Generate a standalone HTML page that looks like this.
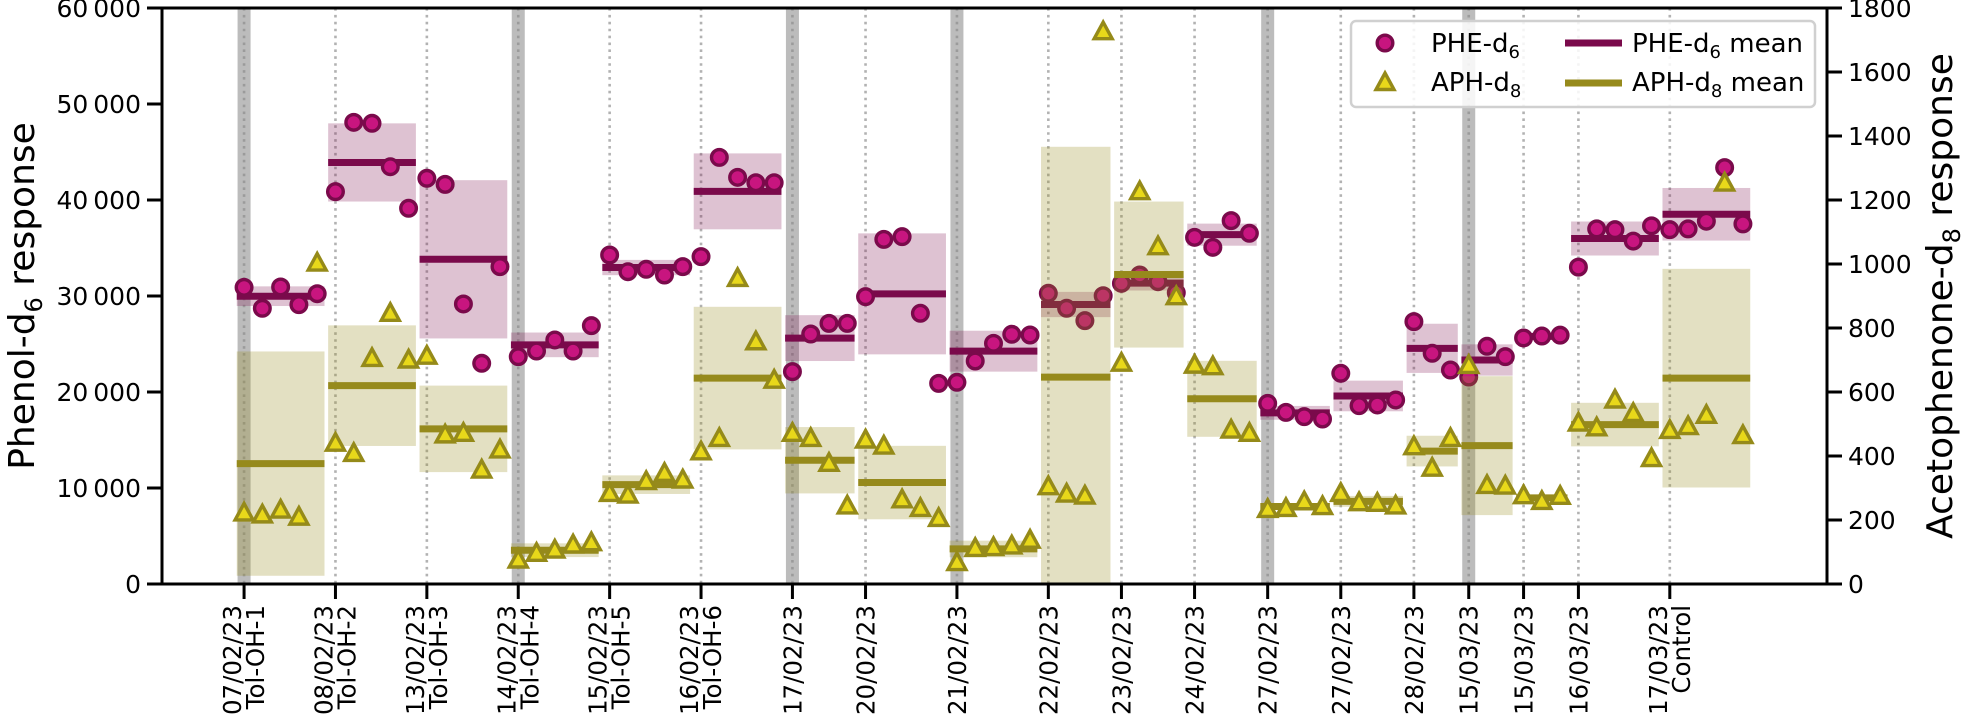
<!DOCTYPE html>
<html><head><meta charset="utf-8"><style>
html,body{margin:0;padding:0;background:#fff;}
svg{display:block;font-family:"DejaVu Sans","Liberation Sans",sans-serif;}
</style></head><body>
<svg id="chart" width="1970" height="727" viewBox="0 0 1970 727" xmlns="http://www.w3.org/2000/svg">
<defs><clipPath id="plotclip"><rect x="162" y="8" width="1665" height="576"/></clipPath></defs>
<g id="bg" clip-path="url(#plotclip)"></g><g id="phe" clip-path="url(#plotclip)"></g><g id="aph" clip-path="url(#plotclip)"></g><g id="axes"></g>
</svg>
<script>
const groupStarts = [0,5,10,15,20,25,30,34,39,44,48,52,56,60,64,67,70,73,78];
const groupDates = ["07/02/23","08/02/23","13/02/23","14/02/23","15/02/23","16/02/23","17/02/23","20/02/23","21/02/23","22/02/23","23/02/23","24/02/23","27/02/23","27/02/23","28/02/23","15/03/23","15/03/23","16/03/23","17/03/23"];
const groupNames = ["Tol-OH-1","Tol-OH-2","Tol-OH-3","Tol-OH-4","Tol-OH-5","Tol-OH-6","","","","","","","","","","","","","Control"];
const grayGroups = [0,3,6,8,12,15];
const pheValues = [30900,28720,30940,29100,30240, 40870,48090,47990,43470,39140, 42260,41630,29170,22990,33060, 23680,24270,25420,24270,26910, 34270,32530,32780,32190,33060, 34100,44440,42360,41800,41800, 22120,26040,27150,27150, 29930,35900,36180,28200,20900, 21010,23230,25070,26010,25940, 30280,28720,27430,30030, 31320,32190,31490,30340, 36110,35070,37850,36530, 18820,17880,17430,17190, 21950,18580,18650,19170, 27330,24030,22290, 21560,24760,23680, 25630,25830,25920, 33010,36990,36910,35720,37310, 36910,36990,37790,43370,37510];
const aphValues = [222,216,231,209,1003, 440,408,705,846,700, 712,466,471,356,419, 75,96,106,122,129, 283,278,320,346,325, 413,455,955,757,637, 471,455,377,244, 450,431,263,236,205, 67,111,114,119,137, 304,281,275,1726, 690,1226,1054,898, 684,679,481,471, 233,236,257,242, 283,254,252,244, 429,362,455, 683,308,306, 276,258,274, 503,488,575,533,392, 480,492,527,1253,464];
const leftTicks = [0,10000,20000,30000,40000,50000,60000];
const leftTickLabels = ["0","10\u2009000","20\u2009000","30\u2009000","40\u2009000","50\u2009000","60\u2009000"];
const rightTicks = [0,200,400,600,800,1000,1200,1400,1600,1800];

const NS="http://www.w3.org/2000/svg";
const L=162,R=1827,T=8,B=584;
const X0=-4.49,X1=86.6;
const xs=i=>L+(i-X0)/(X1-X0)*(R-L);
const yl=v=>B-v/60000*(B-T);
const yr=v=>B-v/1800*(B-T);
function mk(p,tag,attrs,name){const e=document.createElementNS(NS,tag);for(const k in attrs)e.setAttribute(k,attrs[k]);


p.appendChild(e);return e;}
const bg=document.getElementById('bg'),gp=document.getElementById('phe'),ga=document.getElementById('aph'),ax=document.getElementById('axes');
const N=pheValues.length;
const ends=groupStarts.map((s,k)=>k<groupStarts.length-1?groupStarts[k+1]-1:N-1);
grayGroups.forEach(k=>{mk(bg,'rect',{x:xs(groupStarts[k])-6.5,y:T,width:13,height:B-T,fill:'#b0b0b0','fill-opacity':0.85},'date-band');});
groupStarts.forEach(s=>{mk(bg,'line',{x1:xs(s),x2:xs(s),y1:T,y2:B,stroke:'#888','stroke-opacity':0.65,'stroke-width':2.6,'stroke-dasharray':'2.6 4.3'},'group-divider');});
function stats(a){const m=a.reduce((p,c)=>p+c,0)/a.length;const sd=a.length>1?Math.sqrt(a.reduce((p,c)=>p+(c-m)*(c-m),0)/(a.length-1)):0;return [m,sd];}
function drawSeries(g,vals,ys,boxFill,lineCol,marker,nm){
 groupStarts.forEach((s,k)=>{const e=ends[k];const [m,sd]=stats(vals.slice(s,e+1));
  const x1=xs(s-0.4),x2=xs(e+0.4);
  mk(g,'rect',{x:x1,y:ys(m+sd),width:x2-x1,height:ys(m-sd)-ys(m+sd),fill:boxFill},nm+'-std-band');
  mk(g,'line',{x1:x1,x2:x2,y1:ys(m),y2:ys(m),stroke:lineCol,'stroke-width':7},nm+'-mean-line');
 });
 vals.forEach((v,i)=>marker(g,xs(i),ys(v)));
}
const circ=(g,x,y)=>mk(g,'circle',{cx:x,cy:y,r:7.8,fill:'#c8157f',stroke:'#7a0a4b','stroke-width':3.4},'phe-point');
const tri=(g,x,y)=>mk(g,'path',{d:`M${x},${y-9.5} L${x+9},${y+7} L${x-9},${y+7} Z`,fill:'#e8d81a',stroke:'#958a19','stroke-width':3.4,'stroke-linejoin':'miter'},'aph-point');
drawSeries(gp,pheValues,yl,'rgba(122,10,75,0.25)','#7a0a4b',circ,'phe');
drawSeries(ga,aphValues,yr,'rgba(150,140,30,0.27)','#968a1c',tri,'aph');
mk(ax,'rect',{x:L,y:T,width:R-L,height:B-T,fill:'none',stroke:'#000','stroke-width':3},'plot-frame');
leftTicks.forEach((v,i)=>{const y=yl(v);mk(ax,'line',{x1:L-15,x2:L,y1:y,y2:y,stroke:'#000','stroke-width':3},'left-tick');
 const t=mk(ax,'text',{x:L-21,y:y+9,'text-anchor':'end','font-size':25},'left-tick-label');t.textContent=leftTickLabels[i];});
rightTicks.forEach(v=>{const y=yr(v);mk(ax,'line',{x1:R,x2:R+15,y1:y,y2:y,stroke:'#000','stroke-width':3},'right-tick');
 const t=mk(ax,'text',{x:R+21,y:y+9,'text-anchor':'start','font-size':25},'right-tick-label');t.textContent=String(v);});
groupStarts.forEach((s,k)=>{const x=xs(s);mk(ax,'line',{x1:x,x2:x,y1:B,y2:B+15,stroke:'#000','stroke-width':3},'x-tick');
 const two=groupNames[k]!=='';
 const t=mk(ax,'text',{transform:`translate(${x},${B+21}) rotate(-90)`,'text-anchor':'end','font-size':24.5},'x-tick-label');
 const a=document.createElementNS(NS,'tspan');a.setAttribute('x',0);a.setAttribute('y',two?-3:9);a.textContent=groupDates[k];t.appendChild(a);
 if(two){const b=document.createElementNS(NS,'tspan');b.setAttribute('x',0);b.setAttribute('y',20);b.textContent=groupNames[k];t.appendChild(b);}
});
</script>
<script>
(function(){
const svg=document.getElementById('chart');
svg.insertAdjacentHTML('beforeend',`
<text transform="translate(34,296) rotate(-90)" text-anchor="middle" font-size="36">Phenol-d<tspan font-size="24" dy="8">6</tspan><tspan dy="-8"> response</tspan></text>
<text transform="translate(1952,296) rotate(-90)" text-anchor="middle" font-size="36">Acetophenone-d<tspan font-size="24" dy="8">8</tspan><tspan dy="-8"> response</tspan></text>
<g>
<rect x="1351" y="21" width="464" height="86" rx="5" fill="#fff" fill-opacity="0.85" stroke="#d0d0d0" stroke-width="2.5"/>
<circle cx="1385" cy="43" r="7.8" fill="#c8157f" stroke="#7a0a4b" stroke-width="3.4"/>
<text x="1431" y="52" font-size="26">PHE-d<tspan font-size="18" dy="6">6</tspan></text>
<path d="M1385,73 L1394,89.5 L1376,89.5 Z" fill="#e8d81a" stroke="#958a19" stroke-width="3.4"/>
<text x="1431" y="91" font-size="26">APH-d<tspan font-size="18" dy="6">8</tspan></text>
<line x1="1565" x2="1622" y1="43" y2="43" stroke="#7a0a4b" stroke-width="7"/>
<text x="1632" y="52" font-size="26">PHE-d<tspan font-size="18" dy="6">6</tspan><tspan dy="-6"> mean</tspan></text>
<line x1="1565" x2="1622" y1="83" y2="83" stroke="#968a1c" stroke-width="7"/>
<text x="1632" y="91" font-size="26">APH-d<tspan font-size="18" dy="6">8</tspan><tspan dy="-6"> mean</tspan></text>
</g>`);
})();
</script>
</body></html>
